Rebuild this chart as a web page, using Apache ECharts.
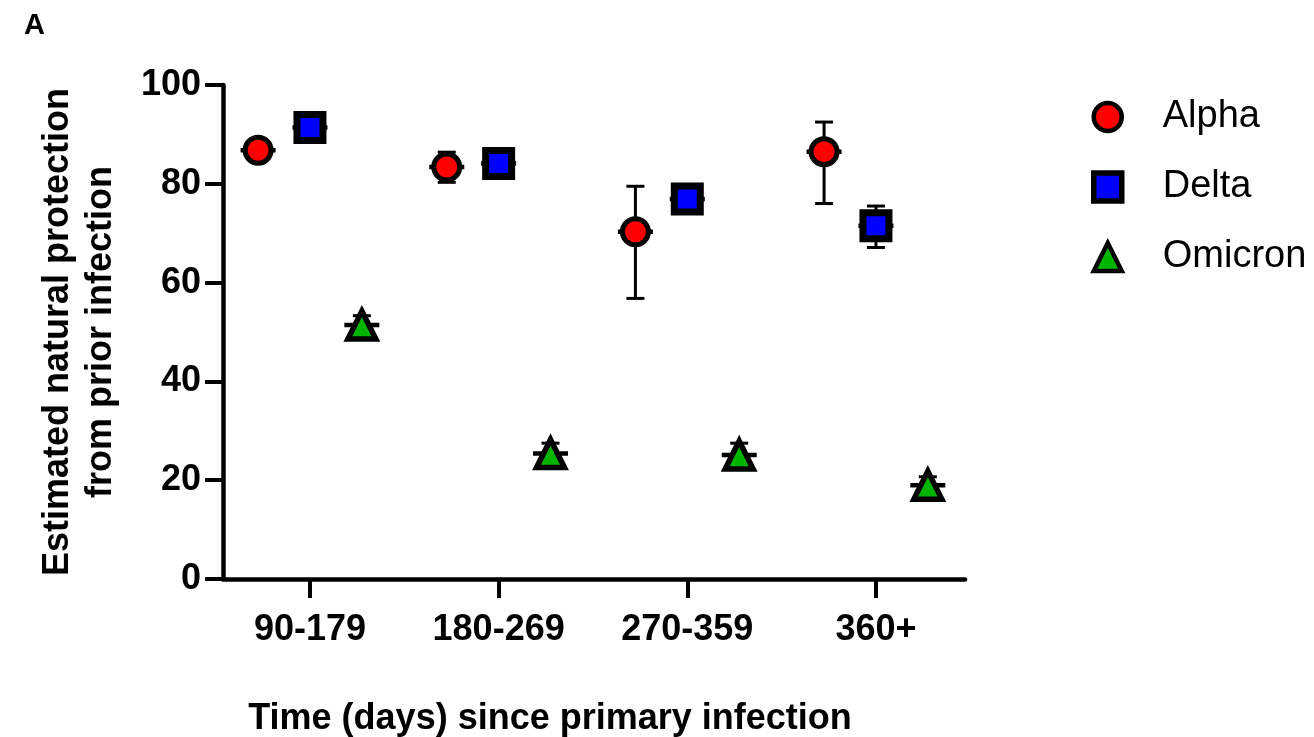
<!DOCTYPE html>
<html>
<head>
<meta charset="utf-8">
<title>Estimated natural protection from prior infection</title>
<script src="https://cdn.jsdelivr.net/npm/echarts@6/dist/echarts.min.js"></script>
<style>
  html, body { margin: 0; padding: 0; background: #fff; }
  #chart { width: 1314px; height: 737px; }
</style>
</head>
<body>
<div id="chart"></div>
<script>
// Time bins since primary infection
const categories = ['90-179', '180-269', '270-359', '360+'];

// Estimated protection (%) with confidence interval bounds, per variant
const alphaMean = [86.8, 83.4, 70.3, 86.5];
const alphaLow  = [85.8, 80.3, 56.8, 76.0];
const alphaHigh = [87.8, 86.4, 79.5, 92.5];

const deltaMean = [91.4, 84.1, 76.9, 71.5];
const deltaLow  = [90.4, 83.1, 75.9, 67.1];
const deltaHigh = [92.3, 85.1, 77.9, 75.5];

const omicronMean = [51.4, 25.4, 25.1, 19.0];
const omicronLow  = [49.5, 23.4, 22.8, 17.3];
const omicronHigh = [53.3, 27.5, 27.5, 20.7];

const yTicks = [0, 20, 40, 60, 80, 100];

// Horizontal offset of each variant inside its time bin (axis units)
const variants = [
  { name: 'Alpha',   mean: alphaMean,   low: alphaLow,   high: alphaHigh,   shift: -0.275, symbol: 'circle',   size: 26, border: 5,   legendBorder: 4.5, color: '#FF0000' },
  { name: 'Delta',   mean: deltaMean,   low: deltaLow,   high: deltaHigh,   shift: 0,      symbol: 'rect',     size: 26, border: 7,   legendBorder: 5.5, color: '#0000FF' },
  { name: 'Omicron', mean: omicronMean, low: omicronLow, high: omicronHigh, shift: 0.275,  symbol: 'triangle', size: 28, border: 5.5, legendBorder: 4.5, color: '#00B400' }
];

const FONT = '"Liberation Sans", Arial, Helvetica, sans-serif';
const tickPositions = categories.map((c, i) => i + 1);

function errorBarRender(params, api) {
  const x = api.value(0);
  const mean = api.coord([x, api.value(1)]);
  const lo = api.coord([x, api.value(2)]);
  const hi = api.coord([x, api.value(3)]);
  const capHalf = 9;
  const meanHalf = 17.5;
  const st = { stroke: '#000', lineWidth: 3 };
  return {
    type: 'group',
    children: [
      { type: 'line', shape: { x1: mean[0], y1: lo[1], x2: mean[0], y2: hi[1] }, style: st },
      { type: 'line', shape: { x1: mean[0] - capHalf, y1: hi[1], x2: mean[0] + capHalf, y2: hi[1] }, style: st },
      { type: 'line', shape: { x1: mean[0] - capHalf, y1: lo[1], x2: mean[0] + capHalf, y2: lo[1] }, style: st },
      { type: 'line', shape: { x1: mean[0] - meanHalf, y1: mean[1], x2: mean[0] + meanHalf, y2: mean[1] }, style: { stroke: '#000', lineWidth: 4.5 } }
    ]
  };
}

const series = [];
variants.forEach(v => {
  series.push({
    type: 'custom',
    name: v.name + ' CI',
    renderItem: errorBarRender,
    z: 2,
    silent: true,
    encode: { x: 0, y: 1 },
    data: v.mean.map((m, i) => [i + 1 + v.shift, m, v.low[i], v.high[i]])
  });
});
variants.forEach(v => {
  series.push({
    type: 'scatter',
    name: v.name,
    symbol: v.symbol,
    symbolSize: v.size,
    z: 5,
    itemStyle: { color: v.color, borderColor: '#000', borderWidth: v.border, opacity: 1 },
    emphasis: { disabled: true },
    data: v.mean.map((m, i) => [i + 1 + v.shift, m])
  });
});

const chart = echarts.init(document.getElementById('chart'), null, { renderer: 'canvas' });
chart.setOption({
  animation: false,
  backgroundColor: '#ffffff',
  title: {
    text: 'A',
    left: 19,
    top: 6,
    textStyle: { fontFamily: FONT, fontWeight: 'bold', fontSize: 29, color: '#000' }
  },
  legend: {
    orient: 'vertical',
    left: 1091,
    top: 97,
    padding: 0,
    itemWidth: 28,
    itemHeight: 28,
    itemGap: 30,
    data: variants.map(v => ({
      name: v.name,
      itemStyle: { color: v.color, borderColor: '#000', borderWidth: v.legendBorder }
    })),
    textStyle: {
      fontFamily: FONT, fontSize: 38, color: '#000', lineHeight: 40,
      padding: [0, 0, 0, 36]
    }
  },
  grid: { left: 223, right: 349, top: 85, bottom: 158, containLabel: false, outerBoundsMode: 'none' },
  xAxis: {
    type: 'value',
    min: 0.539,
    max: 4.472,
    splitLine: { show: false },
    axisLine: { show: true, onZero: false, lineStyle: { color: '#000', width: 4.5 } },
    axisTick: { show: true, inside: false, length: 19, customValues: tickPositions, lineStyle: { color: '#000', width: 4 } },
    axisLabel: {
      customValues: tickPositions,
      formatter: v => categories[Math.round(v) - 1] || '',
      margin: 33,
      fontFamily: FONT, fontWeight: 'bold', fontSize: 36, color: '#000'
    },
    name: 'Time (days) since primary infection',
    nameLocation: 'middle',
    nameGap: 122,
    nameTextStyle: {
      fontFamily: FONT, fontWeight: 'bold', fontSize: 36, color: '#000',
      padding: [0, 88, 0, 0]
    }
  },
  yAxis: {
    type: 'value',
    min: yTicks[0],
    max: yTicks[yTicks.length - 1],
    interval: 20,
    splitLine: { show: false },
    axisLine: { show: true, lineStyle: { color: '#000', width: 4.5 } },
    axisTick: { show: true, length: 18, lineStyle: { color: '#000', width: 4 } },
    axisLabel: {
      margin: 22,
      fontFamily: FONT, fontWeight: 'bold', fontSize: 36, color: '#000'
    },
    name: 'Estimated natural protection\nfrom prior infection',
    nameLocation: 'middle',
    nameRotate: 90,
    nameGap: 100,
    nameTextStyle: { fontFamily: FONT, fontWeight: 'bold', fontSize: 36, color: '#000', lineHeight: 43 }
  },
  series: series
});
</script>
</body>
</html>
